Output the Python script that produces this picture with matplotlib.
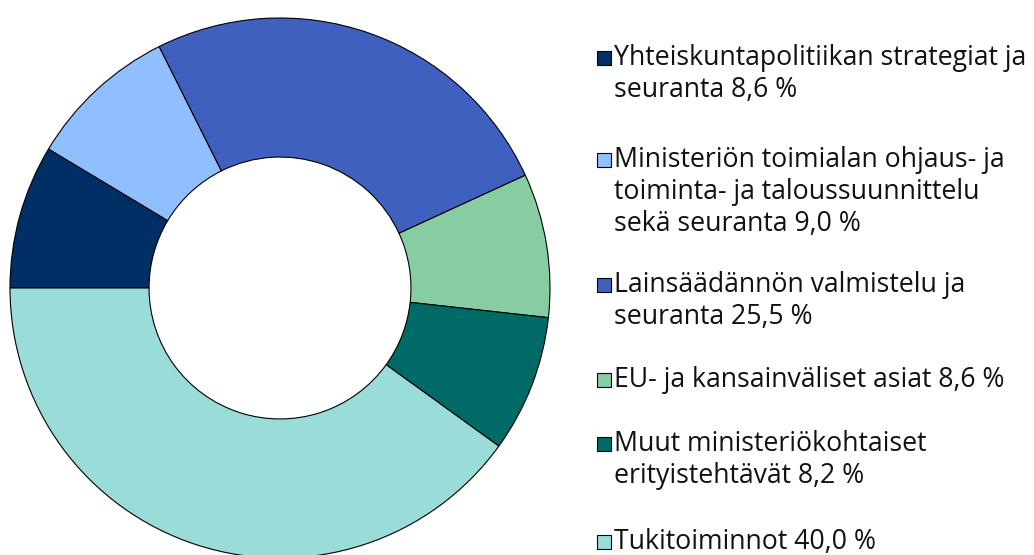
import matplotlib
matplotlib.use("Agg")
import matplotlib.pyplot as plt
from matplotlib.patches import Rectangle

labels = [
    "Yhteiskuntapolitiikan strategiat ja\nseuranta 8,6 %",
    "Ministeriön toimialan ohjaus- ja\ntoiminta- ja taloussuunnittelu\nsekä seuranta 9,0 %",
    "Lainsäädännön valmistelu ja\nseuranta 25,5 %",
    "EU- ja kansainväliset asiat 8,6 %",
    "Muut ministeriökohtaiset\nerityistehtävät 8,2 %",
    "Tukitoiminnot 40,0 %",
]
values = [8.6, 9.0, 25.5, 8.6, 8.2, 40.0]
colors = ["#002f66", "#8fbfff", "#4060c0", "#88cca2", "#006b66", "#99dcd8"]

W, H = 1034, 555
fig = plt.figure(figsize=(W / 100, H / 100), dpi=100)
plt.rcParams['font.family'] = ['Open Sans', 'DejaVu Sans']

cx, cy, R = 280, 288, 270
ax = fig.add_axes([(cx - R) / W, (H - cy - R) / H, 2 * R / W, 2 * R / H])
wedges, _ = ax.pie(values, colors=colors, startangle=180, counterclock=False,
                   radius=1.0,
                   wedgeprops=dict(width=0.515, edgecolor="black", linewidth=0.8))
for w in wedges:
    w.set_clip_on(False)
ax.set_xlim(-1, 1)
ax.set_ylim(-1, 1)
ax.set_aspect("equal")
ax.axis("off")

# legend
first_line_y = [58, 160, 285, 380, 444, 542]
line_h = 32
for lab, col, y0 in zip(labels, colors, first_line_y):
    fig.patches.append(Rectangle(((597) / W, (H - y0 - 7) / H), 14 / W, 14 / H,
                                 transform=fig.transFigure, facecolor=col,
                                 edgecolor="black", linewidth=0.8))
    for i, line in enumerate(lab.split("\n")):
        fig.text(614 / W, (H - (y0 + i * line_h)) / H, line, fontsize=19.2,
                 va="center", ha="left", color="#111111")

fig.savefig("out.png", dpi=100)
